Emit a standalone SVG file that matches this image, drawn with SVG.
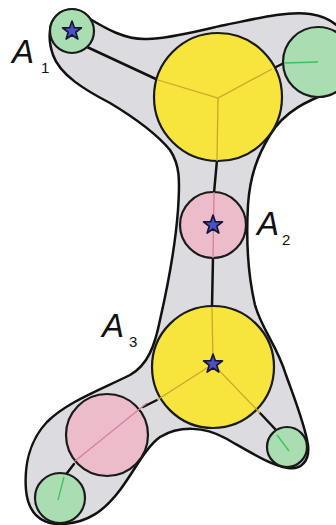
<svg xmlns="http://www.w3.org/2000/svg" width="336" height="525" viewBox="0 0 336 525">
<style>
.blob{fill:#dcdbe0;stroke:#111;stroke-width:2.5;stroke-linejoin:round}
.yel{fill:#f7e43c;stroke:#1a1a1a;stroke-width:2.2}
.grn{fill:#a9deb0;stroke:#1a1a1a;stroke-width:2.2}
.pnk{fill:#ecbccb;stroke:#1a1a1a;stroke-width:2.2}
.con{stroke:#111;stroke-width:2.5;fill:none;stroke-linecap:round}
.iy{stroke:#c9a72a;stroke-width:1.3;fill:none}
.ig{stroke:#3cc060;stroke-width:1.3;fill:none}
.ip{stroke:#d67f9e;stroke-width:1.3;fill:none}
.star{fill:#4b4fc8;stroke:#151530;stroke-width:1.6;stroke-linejoin:round}
.lbl{font-family:"Liberation Sans",Arial,sans-serif;font-style:italic;font-size:33px;fill:#111}
.sub{font-family:"Liberation Sans",Arial,sans-serif;font-style:normal;font-size:15px;fill:#111}
</style>
<defs>
<polygon id="st" class="star" points="0,-10 2.35,-3.24 9.51,-3.09 3.8,1.24 5.88,8.09 0,4 -5.88,8.09 -3.8,1.24 -9.51,-3.09 -2.35,-3.24"/>
</defs>
<path id="blob" class="blob" d="M50,31 A22,22 0 0 1 90,19 C105,28 125,40 147,39 C175,38 200,30 225,25 C255,19 285,11 310,14 C340,18 352,40 352,62 C352,80 342,88 330,92 C310,100 285,110 270,135 C258,155 250,175 248,205 C246,240 248,275 255,305 C262,330 277,345 286,375 C295,400 305,425 308,445 C310,462 300,470 288,468 C270,465 250,452 225,438 C205,427 180,425 160,437 C145,448 135,470 120,490 C105,510 88,523 62,524 C40,525 28,512 26,490 C24,465 30,440 47,422 C67,402 100,390 130,375 C148,365 155,345 160,320 C168,285 175,250 178,210 C180,180 180,165 170,150 C155,132 135,118 110,103 C85,90 60,75 53,55 C50,46 49,38 50,31 Z"/>
<g id="connectors">
<line class="con" x1="87" y1="47" x2="158" y2="80"/>
<line class="con" x1="272" y1="69" x2="284" y2="63"/>
<line class="con" x1="217" y1="160" x2="214" y2="193"/>
<line class="con" x1="213" y1="257" x2="212" y2="307"/>
<line class="con" x1="143" y1="407" x2="157" y2="400"/>
<line class="con" x1="74" y1="464" x2="64" y2="477"/>
<line class="con" x1="260" y1="413" x2="276" y2="430"/>
</g>
<g id="n1">
<circle class="grn" cx="72" cy="31" r="22"/>
<use href="#st" x="72" y="31"/>
</g>
<g id="n2">
<circle class="yel" cx="218" cy="97" r="64"/>
<polyline class="iy" points="158,80 218,98 272,69"/>
<line class="iy" x1="218" y1="98" x2="217" y2="161"/>
</g>
<g id="n3">
<circle class="grn" cx="318" cy="62" r="35"/>
<line class="ig" x1="284" y1="63" x2="318" y2="62"/>
</g>
<g id="n4">
<circle class="pnk" cx="213" cy="225" r="33"/>
<line class="ip" x1="214" y1="192" x2="213" y2="258"/>
<use href="#st" x="213" y="225"/>
</g>
<g id="n5">
<circle class="yel" cx="213" cy="367" r="61"/>
<polyline class="iy" points="157,400 213,364 260,413"/>
<line class="iy" x1="213" y1="364" x2="212" y2="307"/>
<use href="#st" x="213" y="364"/>
</g>
<g id="n6">
<circle class="pnk" cx="107" cy="435" r="41"/>
<line class="ip" x1="147" y1="403" x2="75" y2="461"/>
</g>
<g id="n7">
<circle class="grn" cx="60" cy="498" r="25"/>
<line class="ig" x1="64" y1="477" x2="58" y2="500"/>
</g>
<g id="n8">
<circle class="grn" cx="287" cy="447" r="20"/>
<line class="ig" x1="277" y1="435" x2="289" y2="451"/>
</g>
<g id="labels">
<text class="lbl" x="12" y="63">A<tspan class="sub" x="41" y="73">1</tspan></text>
<text class="lbl" x="257" y="235">A<tspan class="sub" x="282" y="245">2</tspan></text>
<text class="lbl" x="102" y="337">A<tspan class="sub" x="129" y="347">3</tspan></text>
</g>
</svg>
